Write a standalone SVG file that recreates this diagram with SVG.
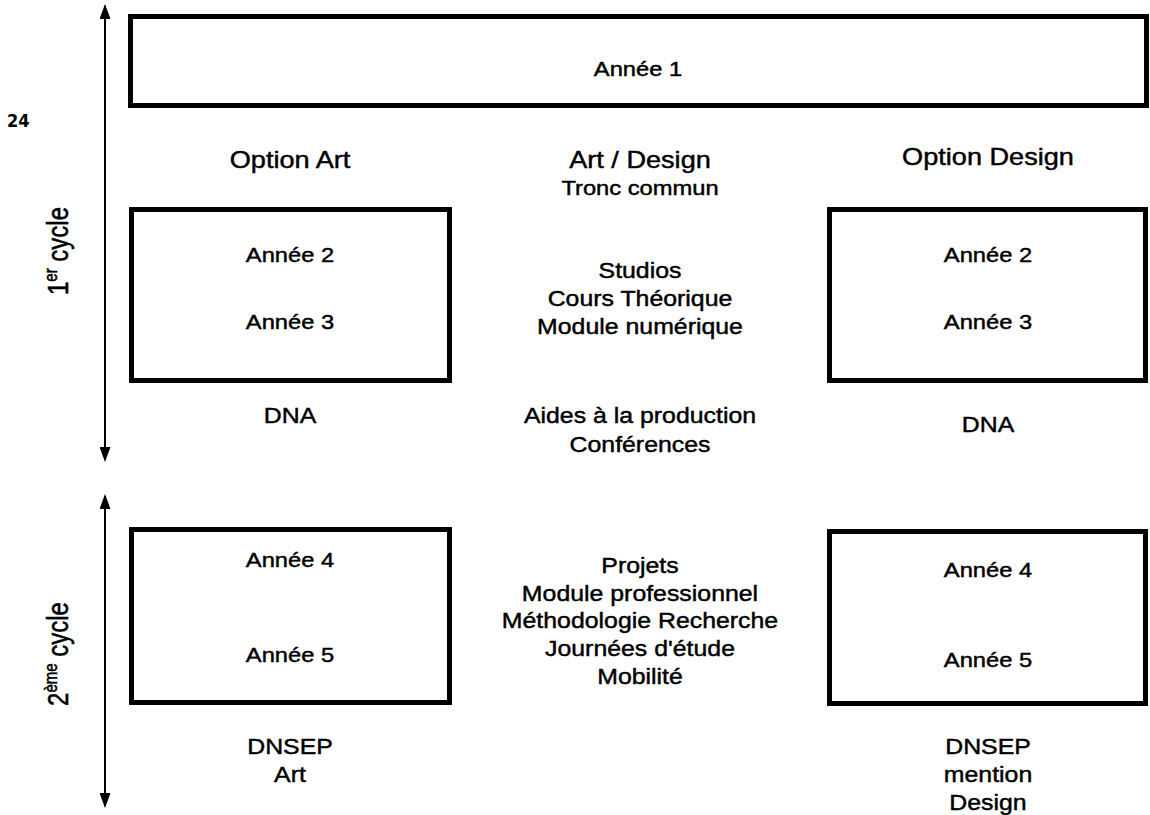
<svg xmlns="http://www.w3.org/2000/svg" width="1150" height="815" viewBox="0 0 1150 815">
<style>
.box{fill:#fff;stroke:#000;stroke-width:5}
.t{font-family:"Liberation Sans",Arial,sans-serif;fill:#000;text-anchor:middle;stroke:#000;stroke-width:0.45}
.s21{font-size:21px}
.s22{font-size:22px}
.s24{font-size:24px}
.ax{stroke:#000;stroke-width:2;fill:none}
.pg{font-family:"DejaVu Sans Condensed","DejaVu Sans",sans-serif;font-weight:bold;font-size:18px;fill:#000}
</style>
<defs>
<marker id="ah" viewBox="0 0 15 11" refX="13" refY="5.5" markerWidth="15" markerHeight="11" markerUnits="userSpaceOnUse" orient="auto-start-reverse">
<path d="M0,0 L15,5.5 L0,11 z" fill="#000"/>
</marker>
</defs>
<text class="pg" x="7" y="127">24</text>
<g id="connectors">
<line class="ax" x1="105" y1="6" x2="105" y2="460" marker-start="url(#ah)" marker-end="url(#ah)"/>
<line class="ax" x1="105" y1="496" x2="105" y2="806" marker-start="url(#ah)" marker-end="url(#ah)"/>
</g>
<g id="cycle1">
<text class="t s24" transform="translate(68 251) scale(1.22 1) rotate(-90)" x="0" y="0">1<tspan font-size="15" dy="-9">er</tspan><tspan dy="9"> cycle</tspan></text>
</g>
<g id="cycle2">
<text class="t s24" transform="translate(68 654) scale(1.22 1) rotate(-90)" x="0" y="0">2<tspan font-size="15" dy="-9">ème</tspan><tspan dy="9"> cycle</tspan></text>
</g>
<g id="annee1">
<rect class="box" x="130.5" y="16.5" width="1016" height="89"/>
<text class="t s21" transform="translate(638 76) scale(1.13 1)">Année 1</text>
</g>
<g id="option-art">
<text class="t s24" transform="translate(290 168) scale(1.13 1)">Option Art</text>
</g>
<g id="tronc-commun">
<text class="t s24" transform="translate(640 168) scale(1.13 1)">Art / Design</text>
<text class="t s21" transform="translate(640 195) scale(1.13 1)">Tronc commun</text>
</g>
<g id="option-design">
<text class="t s24" transform="translate(988 165) scale(1.13 1)">Option Design</text>
</g>
<g id="art-23">
<rect class="box" x="131.5" y="209.5" width="318" height="171"/>
<text class="t s21" transform="translate(290 262) scale(1.13 1)">Année 2</text>
<text class="t s21" transform="translate(290 329) scale(1.13 1)">Année 3</text>
</g>
<g id="design-23">
<rect class="box" x="829.5" y="209.5" width="316" height="171"/>
<text class="t s21" transform="translate(988 262) scale(1.13 1)">Année 2</text>
<text class="t s21" transform="translate(988 329) scale(1.13 1)">Année 3</text>
</g>
<g id="contenus-1">
<text class="t s22" transform="translate(640 278) scale(1.13 1)">Studios</text>
<text class="t s22" transform="translate(640 306) scale(1.13 1)">Cours Théorique</text>
<text class="t s22" transform="translate(640 334) scale(1.13 1)">Module numérique</text>
</g>
<g id="dna-art">
<text class="t s22" transform="translate(290 423) scale(1.13 1)">DNA</text>
</g>
<g id="aides">
<text class="t s22" transform="translate(640 423) scale(1.13 1)">Aides à la production</text>
<text class="t s22" transform="translate(640 452) scale(1.13 1)">Conférences</text>
</g>
<g id="dna-design">
<text class="t s22" transform="translate(988 432) scale(1.13 1)">DNA</text>
</g>
<g id="art-45">
<rect class="box" x="131.5" y="529.5" width="318" height="173"/>
<text class="t s21" transform="translate(290 567) scale(1.13 1)">Année 4</text>
<text class="t s21" transform="translate(290 662) scale(1.13 1)">Année 5</text>
</g>
<g id="design-45">
<rect class="box" x="829.5" y="531.5" width="316" height="172"/>
<text class="t s21" transform="translate(988 577) scale(1.13 1)">Année 4</text>
<text class="t s21" transform="translate(988 667) scale(1.13 1)">Année 5</text>
</g>
<g id="contenus-2">
<text class="t s22" transform="translate(640 573) scale(1.13 1)">Projets</text>
<text class="t s22" transform="translate(640 601) scale(1.13 1)">Module professionnel</text>
<text class="t s22" transform="translate(640 628) scale(1.13 1)">Méthodologie Recherche</text>
<text class="t s22" transform="translate(640 656) scale(1.13 1)">Journées d'étude</text>
<text class="t s22" transform="translate(640 684) scale(1.13 1)">Mobilité</text>
</g>
<g id="dnsep-art">
<text class="t s22" transform="translate(290 754) scale(1.13 1)">DNSEP</text>
<text class="t s22" transform="translate(290 782) scale(1.13 1)">Art</text>
</g>
<g id="dnsep-design">
<text class="t s22" transform="translate(988 754) scale(1.13 1)">DNSEP</text>
<text class="t s22" transform="translate(988 782) scale(1.13 1)">mention</text>
<text class="t s22" transform="translate(988 810) scale(1.13 1)">Design</text>
</g>
</svg>
